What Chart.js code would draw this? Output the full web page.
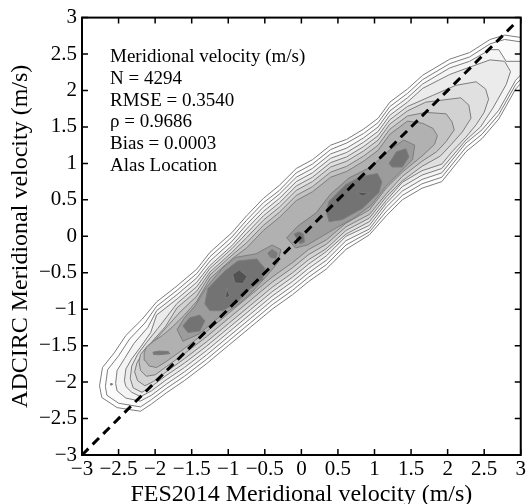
<!DOCTYPE html>
<html>
<head>
<meta charset="utf-8">
<script src="https://cdn.jsdelivr.net/npm/chart.js@4.4.1/dist/chart.umd.min.js"></script>
<style>
html, body { margin: 0; padding: 0; background: #fff; }
canvas { display: block; }
</style>
</head>
<body>
<canvas id="chart" width="528" height="504"></canvas>
<script>
// tick values / labels (both axes)
const tickValues = [-3, -2.5, -2, -1.5, -1, -0.5, 0, 0.5, 1, 1.5, 2, 2.5, 3];
const tickLabels = ['\u22123', '\u22122.5', '\u22122', '\u22121.5', '\u22121', '\u22120.5', '0', '0.5', '1', '1.5', '2', '2.5', '3'];

const statsLines = ['Meridional velocity (m/s)', 'N = 4294', 'RMSE = 0.3540', '\u03c1 = 0.9686', 'Bias = 0.0003', 'Alas Location'];
const xTitle = 'FES2014 Meridional velocity (m/s)';
const yTitle = 'ADCIRC Meridional velocity (m/s)';

// 1:1 reference line
const oneToOne = [[-3, -3], [2.92, 2.92]];

// density contours, outermost first: upper edge left->right, lower edge right->left
const level1Upper = [[-2.76,-2.05],[-2.72,-1.80],[-2.56,-1.60],[-2.40,-1.36],[-2.18,-1.14],[-1.98,-0.90],[-1.70,-0.68],[-1.43,-0.45],[-1.25,-0.22],[-0.95,0.05],[-0.75,0.28],[-0.52,0.52],[-0.30,0.70],[-0.07,0.93],[0.15,1.05],[0.40,1.25],[0.62,1.33],[0.85,1.47],[1.05,1.62],[1.21,1.84],[1.45,2.02],[1.66,2.21],[2.03,2.43],[2.30,2.52],[2.58,2.70],[2.78,2.76],[3.05,2.72]];
const level1Lower = [[3.05,2.15],[2.93,2.02],[2.70,1.61],[2.47,1.34],[2.25,1.16],[1.92,0.75],[1.65,0.66],[1.38,0.50],[1.16,0.28],[0.93,0.02],[0.61,-0.18],[0.34,-0.45],[0.10,-0.62],[-0.12,-0.80],[-0.40,-1.00],[-0.70,-1.25],[-1.00,-1.50],[-1.30,-1.75],[-1.60,-1.98],[-1.85,-2.15],[-2.05,-2.30],[-2.20,-2.40],[-2.52,-2.35],[-2.73,-2.21]];

const level2Upper = [[-2.68,-2.06],[-2.65,-1.83],[-2.50,-1.64],[-2.35,-1.41],[-2.14,-1.19],[-1.98,-0.96],[-1.70,-0.74],[-1.43,-0.51],[-1.25,-0.28],[-0.95,-0.01],[-0.75,0.22],[-0.52,0.46],[-0.30,0.63],[-0.07,0.87],[0.15,0.99],[0.40,1.19],[0.62,1.28],[0.85,1.41],[1.05,1.56],[1.21,1.78],[1.45,1.96],[1.66,2.15],[2.03,2.37],[2.30,2.46],[2.58,2.64],[2.78,2.70],[3.05,2.66]];
const level2Lower = [[3.05,2.21],[2.93,2.08],[2.70,1.67],[2.47,1.40],[2.25,1.22],[1.92,0.81],[1.65,0.72],[1.38,0.56],[1.16,0.34],[0.93,0.06],[0.61,-0.12],[0.34,-0.39],[0.10,-0.56],[-0.12,-0.74],[-0.40,-0.94],[-0.70,-1.19],[-1.00,-1.44],[-1.30,-1.69],[-1.60,-1.92],[-1.85,-2.09],[-2.05,-2.24],[-2.20,-2.34],[-2.50,-2.29],[-2.66,-2.18]];

const level3Upper = [[-2.54,-2.02],[-2.52,-1.84],[-2.42,-1.68],[-2.29,-1.47],[-2.10,-1.25],[-1.98,-1.02],[-1.70,-0.80],[-1.43,-0.57],[-1.25,-0.34],[-0.95,-0.07],[-0.75,0.16],[-0.52,0.40],[-0.30,0.58],[-0.07,0.81],[0.15,0.93],[0.40,1.13],[0.62,1.21],[0.85,1.35],[1.05,1.50],[1.21,1.72],[1.45,1.90],[1.66,2.09],[2.03,2.31],[2.30,2.40],[2.58,2.56],[2.70,2.56],[2.80,2.40],[3.05,2.40]];
const level3Lower = [[3.05,2.27],[2.93,2.14],[2.70,1.73],[2.47,1.46],[2.25,1.28],[1.92,0.87],[1.65,0.78],[1.38,0.62],[1.16,0.40],[0.93,0.10],[0.61,-0.06],[0.34,-0.33],[0.10,-0.50],[-0.12,-0.68],[-0.40,-0.88],[-0.70,-1.13],[-1.00,-1.38],[-1.30,-1.63],[-1.60,-1.86],[-1.85,-2.03],[-2.05,-2.18],[-2.20,-2.26],[-2.40,-2.22],[-2.52,-2.12]];

const level4Upper = [[-2.42,-1.98],[-2.40,-1.82],[-2.32,-1.68],[-2.20,-1.52],[-2.06,-1.32],[-1.98,-1.08],[-1.70,-0.86],[-1.43,-0.63],[-1.25,-0.40],[-0.95,-0.13],[-0.75,0.10],[-0.52,0.34],[-0.30,0.52],[-0.07,0.75],[0.15,0.87],[0.40,1.07],[0.62,1.15],[0.85,1.29],[1.05,1.44],[1.21,1.66],[1.45,1.84],[1.66,2.03],[2.03,2.22],[2.30,2.32],[2.58,2.42],[2.78,2.40],[2.86,2.26]];
const level4Lower = [[2.80,2.08],[2.62,1.76],[2.45,1.50],[2.25,1.32],[1.92,0.93],[1.65,0.84],[1.38,0.68],[1.16,0.45],[0.93,0.15],[0.61,0.00],[0.34,-0.27],[0.10,-0.44],[-0.12,-0.62],[-0.40,-0.82],[-0.70,-1.07],[-1.00,-1.32],[-1.30,-1.57],[-1.60,-1.80],[-1.85,-1.97],[-2.05,-2.12],[-2.20,-2.20],[-2.32,-2.14],[-2.40,-2.06]];

const level5Upper = [[-2.34,-1.95],[-2.32,-1.78],[-2.24,-1.62],[-2.12,-1.46],[-1.96,-1.26],[-1.70,-0.92],[-1.43,-0.69],[-1.25,-0.44],[-0.95,-0.17],[-0.75,0.04],[-0.52,0.28],[-0.30,0.46],[-0.07,0.69],[0.15,0.81],[0.40,1.01],[0.62,1.09],[0.85,1.23],[1.05,1.38],[1.21,1.60],[1.45,1.78],[1.79,1.93],[2.11,2.07],[2.39,2.12],[2.52,2.02],[2.56,1.88]];
const level5Lower = [[2.50,1.70],[2.39,1.53],[2.25,1.36],[2.06,1.16],[1.92,0.99],[1.65,0.90],[1.38,0.74],[1.16,0.49],[0.93,0.20],[0.61,0.03],[0.34,-0.21],[0.10,-0.38],[-0.12,-0.56],[-0.40,-0.76],[-0.70,-1.01],[-1.00,-1.26],[-1.30,-1.51],[-1.60,-1.74],[-1.85,-1.91],[-2.05,-2.06],[-2.18,-2.14],[-2.30,-2.08]];

const level6Upper = [[-2.28,-1.86],[-2.25,-1.74],[-2.16,-1.58],[-2.02,-1.42],[-1.86,-1.24],[-1.70,-0.98],[-1.43,-0.75],[-1.25,-0.49],[-0.95,-0.22],[-0.75,-0.02],[-0.52,0.22],[-0.30,0.40],[-0.07,0.63],[0.15,0.75],[0.40,0.95],[0.62,1.03],[0.85,1.17],[1.05,1.32],[1.21,1.54],[1.45,1.72],[1.70,1.84],[2.02,1.88],[2.18,1.90],[2.29,1.80],[2.32,1.62]];
const level6Lower = [[2.20,1.43],[2.05,1.26],[1.90,1.10],[1.65,0.96],[1.38,0.76],[1.16,0.54],[0.93,0.25],[0.61,0.08],[0.34,-0.17],[0.10,-0.32],[-0.12,-0.50],[-0.40,-0.70],[-0.70,-0.95],[-1.00,-1.20],[-1.30,-1.45],[-1.60,-1.68],[-1.85,-1.86],[-2.02,-1.99],[-2.14,-2.05],[-2.24,-1.98]];

const level7Upper = [[-2.22,-1.72],[-2.20,-1.62],[-2.10,-1.50],[-1.96,-1.38],[-1.82,-1.22],[-1.66,-1.04],[-1.43,-0.82],[-1.25,-0.53],[-0.95,-0.26],[-0.75,-0.09],[-0.52,0.15],[-0.30,0.33],[-0.07,0.56],[0.15,0.68],[0.40,0.88],[0.62,0.96],[0.85,1.10],[1.05,1.25],[1.21,1.47],[1.45,1.65],[1.70,1.70],[1.98,1.68],[2.06,1.57],[2.09,1.46]];
const level7Lower = [[1.98,1.30],[1.85,1.16],[1.65,1.03],[1.38,0.82],[1.16,0.58],[0.93,0.30],[0.61,0.13],[0.34,-0.11],[0.10,-0.25],[-0.12,-0.43],[-0.40,-0.63],[-0.70,-0.88],[-1.00,-1.13],[-1.30,-1.38],[-1.60,-1.61],[-1.85,-1.79],[-2.00,-1.90],[-2.12,-1.92],[-2.20,-1.84]];

const level8Upper = [[-2.15,-1.60],[-2.12,-1.52],[-2.02,-1.44],[-1.90,-1.36],[-1.76,-1.24],[-1.60,-1.08],[-1.43,-0.89],[-1.25,-0.58],[-0.95,-0.31],[-0.75,-0.16],[-0.52,0.08],[-0.30,0.26],[-0.07,0.49],[0.15,0.61],[0.40,0.81],[0.62,0.89],[0.85,1.03],[1.05,1.18],[1.21,1.40],[1.45,1.58],[1.66,1.55],[1.80,1.48],[1.86,1.38]];
const level8Lower = [[1.82,1.26],[1.65,1.10],[1.38,0.88],[1.16,0.66],[0.93,0.36],[0.61,0.18],[0.34,-0.05],[0.10,-0.18],[-0.12,-0.36],[-0.40,-0.56],[-0.70,-0.81],[-1.00,-1.06],[-1.30,-1.31],[-1.60,-1.54],[-1.85,-1.72],[-1.98,-1.80],[-2.08,-1.78],[-2.14,-1.70]];

// level 9: two patches inside the core
const level9West = [[-1.70,-1.28],[-1.60,-1.12],[-1.45,-0.95],[-1.30,-0.70],[-1.08,-0.44],[-0.90,-0.29],[-0.62,-0.24],[-0.40,-0.12],[-0.28,-0.18],[-0.32,-0.36],[-0.48,-0.55],[-0.70,-0.79],[-0.90,-0.96],[-1.15,-1.13],[-1.40,-1.34],[-1.62,-1.44]];
const level9East = [[-0.20,-0.02],[-0.05,0.14],[0.20,0.32],[0.40,0.58],[0.65,0.80],[0.95,0.95],[1.20,1.18],[1.40,1.32],[1.55,1.25],[1.52,1.05],[1.35,0.88],[1.15,0.68],[0.95,0.42],[0.70,0.24],[0.45,0.10],[0.25,-0.02],[0.08,-0.12],[-0.08,-0.16]];

// level 10: dark cells
const cellWestBig = [[-1.32,-0.93],[-1.28,-0.72],[-1.05,-0.48],[-0.87,-0.34],[-0.61,-0.31],[-0.50,-0.44],[-0.53,-0.59],[-0.71,-0.73],[-0.89,-0.92],[-1.08,-1.02],[-1.25,-1.02]];
const cellEastBig = [[0.34,0.34],[0.38,0.48],[0.61,0.71],[0.82,0.82],[1.04,0.86],[1.10,0.75],[1.06,0.60],[0.83,0.38],[0.56,0.23],[0.38,0.20]];
const cellNorthEast = [[1.20,1.00],[1.30,1.16],[1.43,1.20],[1.47,1.09],[1.38,0.95],[1.24,0.95]];
const cellSouthWest = [[-1.62,-1.23],[-1.53,-1.12],[-1.39,-1.08],[-1.32,-1.16],[-1.39,-1.30],[-1.55,-1.32]];
const cellSmallA = [[-0.46,-0.23],[-0.40,-0.18],[-0.33,-0.23],[-0.35,-0.30],[-0.42,-0.29]];
const cellSmallB = [[-0.10,0.03],[-0.03,0.06],[0.03,0.03],[0.04,-0.08],[-0.02,-0.10]];
const cellSlit = [[-2.03,-1.59],[-1.95,-1.575],[-1.82,-1.58],[-1.80,-1.61],[-1.95,-1.625],[-2.02,-1.62]];

// level 11: darkest peaks
const peakA = [[-0.94,-0.52],[-0.85,-0.46],[-0.74,-0.55],[-0.80,-0.65],[-0.91,-0.64]];
const peakB = [[-1.02,-0.71],[-0.98,-0.82],[-1.04,-0.85]];
const peakC = [[0.76,0.61],[0.93,0.59],[0.83,0.55]];
const speck = [[-2.61,-2.02],[-2.59,-2.02],[-2.59,-2.04],[-2.61,-2.04]];

const serif = "'Liberation Serif', 'Times New Roman', serif";

function ring(pts) {
    const closed = pts.concat([pts[0]]);
    return closed.map(p => ({x: p[0], y: p[1]}));
}

const shapes = [
    {pts: level1Upper.concat(level1Lower), fill: '#ffffff'},
    {pts: level2Upper.concat(level2Lower), fill: '#fbfbfb'},
    {pts: level3Upper.concat(level3Lower), fill: '#f4f4f4'},
    {pts: level4Upper.concat(level4Lower), fill: '#ebebeb'},
    {pts: level5Upper.concat(level5Lower), fill: '#e0e0e0'},
    {pts: level6Upper.concat(level6Lower), fill: '#d2d2d2'},
    {pts: level7Upper.concat(level7Lower), fill: '#c3c3c3'},
    {pts: level8Upper.concat(level8Lower), fill: '#b1b1b1'},
    {pts: level9West, fill: '#9c9c9c'},
    {pts: level9East, fill: '#9c9c9c'},
    {pts: cellWestBig, fill: '#737373'},
    {pts: cellEastBig, fill: '#737373'},
    {pts: cellNorthEast, fill: '#737373'},
    {pts: cellSouthWest, fill: '#737373'},
    {pts: cellSmallA, fill: '#7a7a7a'},
    {pts: cellSmallB, fill: '#737373'},
    {pts: cellSlit, fill: '#777777'},
    {pts: peakA, fill: '#525252'},
    {pts: peakB, fill: '#525252'},
    {pts: peakC, fill: '#525252'},
    {pts: speck, fill: '#ffffff'}
];

const datasets = shapes.map((s, i) => ({
    data: ring(s.pts),
    fillColor: s.fill,
    borderColor: '#7d7d7d',
    borderWidth: 1,
    fill: false,
    order: 100 - i
}));

datasets.push({
    data: oneToOne.map(p => ({x: p[0], y: p[1]})),
    borderColor: '#000',
    borderWidth: 3,
    borderDash: [9, 6],
    fill: false,
    order: 0
});

// fill each contour polygon with its own shade, using the points Chart.js placed
const polygonFill = {
    id: 'polygonFill',
    beforeDatasetDraw(chart, args) {
        const ds = chart.data.datasets[args.index];
        if (!ds.fillColor) return;
        const pts = args.meta.data;
        const ctx = chart.ctx;
        const a = chart.chartArea;
        ctx.save();
        ctx.beginPath();
        ctx.rect(a.left, a.top, a.right - a.left, a.bottom - a.top);
        ctx.clip();
        ctx.beginPath();
        pts.forEach((p, i) => i ? ctx.lineTo(p.x, p.y) : ctx.moveTo(p.x, p.y));
        ctx.closePath();
        ctx.fillStyle = ds.fillColor;
        ctx.fill();
        ctx.restore();
    }
};

// box, inward ticks, stats text, axis titles
const frame = {
    id: 'frame',
    afterDraw(chart) {
        const ctx = chart.ctx;
        const a = chart.chartArea;
        const xs = chart.scales.x, ys = chart.scales.y;
        ctx.save();
        ctx.strokeStyle = '#000';
        ctx.lineWidth = 1.5;
        ctx.beginPath();
        tickValues.forEach(v => {
            const px = xs.getPixelForValue(v);
            const py = ys.getPixelForValue(v);
            ctx.moveTo(px, a.bottom); ctx.lineTo(px, a.bottom - 6);
            ctx.moveTo(px, a.top); ctx.lineTo(px, a.top + 6);
            ctx.moveTo(a.left, py); ctx.lineTo(a.left + 6, py);
            ctx.moveTo(a.right, py); ctx.lineTo(a.right - 6, py);
        });
        ctx.stroke();
        ctx.lineWidth = 2;
        ctx.strokeRect(a.left, a.top, a.right - a.left, a.bottom - a.top);

        ctx.fillStyle = '#000';
        ctx.font = '19px ' + serif;
        ctx.textAlign = 'left';
        ctx.textBaseline = 'alphabetic';
        statsLines.forEach((t, i) => ctx.fillText(t, a.left + 28, a.top + 44.5 + i * 21.7));

        ctx.font = '24px ' + serif;
        ctx.textAlign = 'center';
        ctx.fillText(xTitle, (a.left + a.right) / 2, 501);
        ctx.translate(27, (a.top + a.bottom) / 2);
        ctx.rotate(-Math.PI / 2);
        ctx.fillText(yTitle, 0, 0);
        ctx.restore();
    }
};

const axisTicks = {
    stepSize: 0.5,
    autoSkip: false,
    maxRotation: 0,
    minRotation: 0,
    color: '#000',
    font: {family: serif, size: 21},
    callback: (v, i) => tickLabels[i]
};

new Chart(document.getElementById('chart'), {
    type: 'line',
    data: {datasets},
    options: {
        responsive: false,
        animation: false,
        layout: {padding: {top: 15, right: 6, left: 0, bottom: 0}},
        plugins: {legend: {display: false}, tooltip: {enabled: false}},
        elements: {point: {radius: 0}, line: {tension: 0, borderJoinStyle: 'round'}},
        scales: {
            x: {
                type: 'linear', min: -3, max: 3,
                afterBuildTicks: s => { s.ticks = tickValues.map(v => ({value: v})); },
                ticks: Object.assign({}, axisTicks, {padding: 2}),
                grid: {display: false, drawTicks: false},
                border: {display: false},
                afterFit: s => { s.height = 49; }
            },
            y: {
                type: 'linear', min: -3, max: 3,
                afterBuildTicks: s => { s.ticks = tickValues.map(v => ({value: v})); },
                ticks: Object.assign({}, axisTicks, {padding: 5}),
                grid: {display: false, drawTicks: false},
                border: {display: false},
                afterFit: s => { s.width = 82; }
            }
        }
    },
    plugins: [polygonFill, frame]
});
</script>
</body>
</html>
